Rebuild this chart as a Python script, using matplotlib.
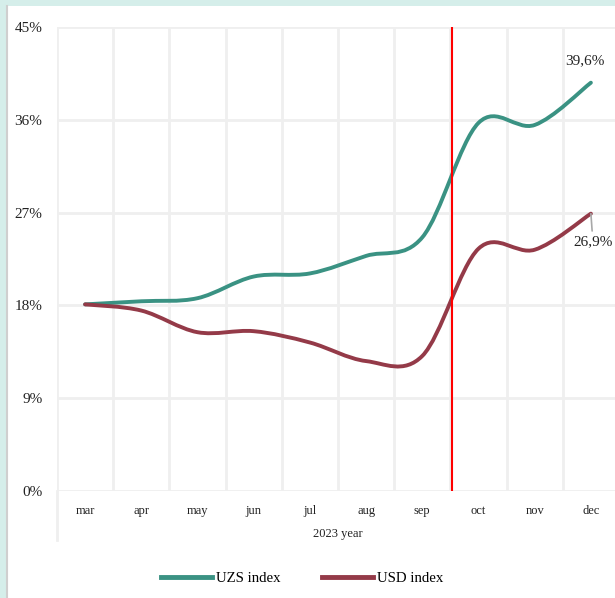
import numpy as np
import matplotlib
matplotlib.use("Agg")
import matplotlib.pyplot as plt
from matplotlib.path import Path
from matplotlib.patches import PathPatch, Rectangle
from matplotlib.lines import Line2D

# Monthly index values, %
months = ["mar", "apr", "may", "jun", "jul", "aug", "sep", "oct", "nov", "dec"]
uzs_index = [18.1, 18.4, 18.7, 20.8, 21.1, 22.8, 24.6, 35.7, 35.5, 39.6]
usd_index = [18.1, 17.5, 15.4, 15.5, 14.4, 12.6, 13.1, 23.5, 23.4, 26.9]
y_ticks = [0, 9, 18, 27, 36, 45]
y_tick_labels = ["0%", "9%", "18%", "27%", "36%", "45%"]
axis_title = "2023 year"
series_names = ["UZS index", "USD index"]
end_labels = ["39,6%", "26,9%"]
break_pos = 6.53  # marker between sep and oct

UZS_COLOR = "#3a9283"
USD_COLOR = "#943a48"
GRID_COLOR = "#efefef"
SERIF = ["Liberation Serif", "DejaVu Serif"]


def smooth_path(xs, ys):
    """Cubic Bezier path through the points (Catmull-Rom style smoothing)."""
    pts = np.column_stack([xs, ys]).astype(float)
    n = len(pts)
    verts = [pts[0]]
    codes = [Path.MOVETO]
    for i in range(n - 1):
        p0 = pts[max(i - 1, 0)]
        p1 = pts[i]
        p2 = pts[i + 1]
        p3 = pts[min(i + 2, n - 1)]
        c1 = p1 + (p2 - p0) / 6.0
        c2 = p2 - (p3 - p1) / 6.0
        verts += [c1, c2, p2]
        codes += [Path.CURVE4] * 3
    return Path(verts, codes)


W, H = 615, 598
fig = plt.figure(figsize=(W / 100, H / 100), dpi=100)
fig.patch.set_facecolor("#d5eeea")

# white card with a thin grey left edge
fig.add_artist(Rectangle((7 / W, 0), 1, 1 - 6 / H, transform=fig.transFigure,
                         facecolor="white", edgecolor="none", zorder=0))
fig.add_artist(Line2D([6.5 / W, 6.5 / W], [0, 1 - 6 / H], transform=fig.transFigure,
                      color="#cfcfcf", lw=1.5, zorder=1))

left, right, top, bottom = 57, 619, 27, 491
ax = fig.add_axes([left / W, 1 - bottom / H, (right - left) / W, (bottom - top) / H])
ax.set_facecolor("none")

x = np.arange(len(months))
ax.set_xlim(-0.5, len(months) - 0.5)
ax.set_ylim(0, 45)

for s in ax.spines.values():
    s.set_visible(False)

# gridlines
for yv in y_ticks:
    ax.axhline(yv, color=GRID_COLOR, lw=2, zorder=1)
for xb in np.arange(-0.5, len(months), 1.0):
    ax.axvline(xb, color=GRID_COLOR, lw=2, zorder=1)

# left boundary of the category group box below the axis
ax.plot([-0.5, -0.5], [0, -49 / (bottom - top) * 45], color=GRID_COLOR, lw=2,
        clip_on=False, zorder=1)

ax.set_yticks(y_ticks)
ax.set_yticklabels(y_tick_labels, fontfamily=SERIF, fontsize=11, color="#222222")
ax.set_xticks(x)
ax.set_xticklabels(months, fontfamily=SERIF, fontsize=9, color="#222222")
ax.tick_params(axis="both", length=0)
ax.tick_params(axis="y", pad=10.5)
ax.tick_params(axis="x", pad=10)
ax.set_xlabel(axis_title, fontfamily=SERIF, fontsize=9, color="#222222", labelpad=8)

# series
for vals, col in [(uzs_index, UZS_COLOR), (usd_index, USD_COLOR)]:
    ax.add_patch(PathPatch(smooth_path(x, vals), facecolor="none", edgecolor=col,
                           lw=2.8, capstyle="round", joinstyle="round", zorder=3))

# vertical marker
ax.axvline(break_pos, color="#ff0000", lw=1.5, zorder=4)

# end-point labels
ax.annotate(end_labels[0], xy=(x[-1], uzs_index[-1]), xytext=(-6, 22),
            textcoords="offset pixels", ha="center", va="center",
            fontfamily=SERIF, fontsize=11, color="#222222", zorder=5)
ax.annotate(end_labels[1], xy=(x[-1], usd_index[-1]), xytext=(2, -28),
            textcoords="offset pixels", ha="center", va="center",
            fontfamily=SERIF, fontsize=11, color="#222222", zorder=5,
            arrowprops=dict(arrowstyle="-", color="#a8a8a8", lw=1.2,
                            shrinkA=1, shrinkB=0))

handles = [Line2D([], [], color=UZS_COLOR, lw=3.5),
           Line2D([], [], color=USD_COLOR, lw=3.5)]
fig.legend(handles, series_names, loc="center", bbox_to_anchor=(302.5 / W, 1 - 578 / H),
           ncol=2, frameon=False, prop={"family": SERIF, "size": 10.7},
           handlelength=3.4, handletextpad=0.3, columnspacing=2.8)

fig.savefig("out.png", dpi=100, facecolor=fig.get_facecolor())
